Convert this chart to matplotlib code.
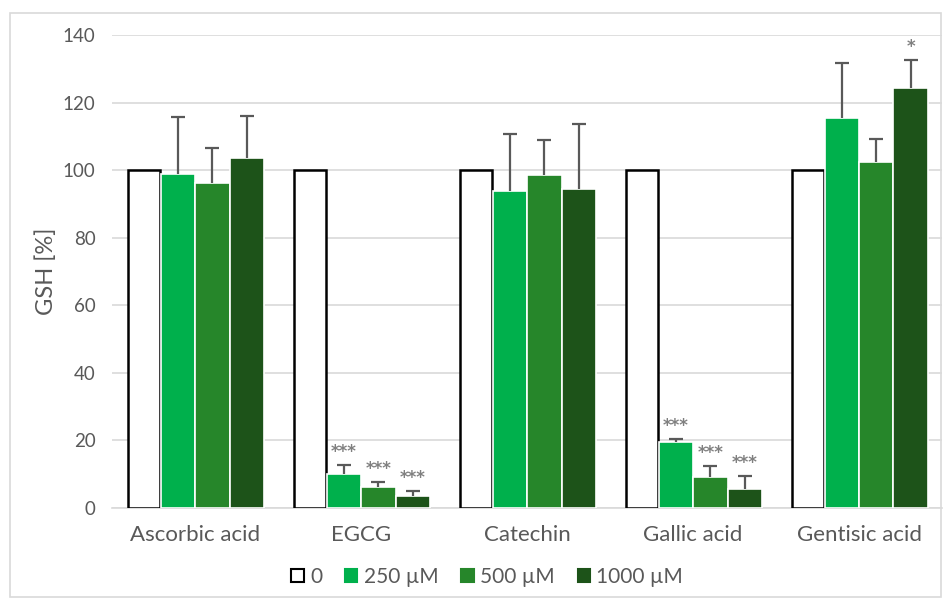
import matplotlib.pyplot as plt
import matplotlib.patches as mpatches
import numpy as np

plt.rcParams['font.family'] = ['Lato', 'DejaVu Sans']

# Data
compounds = ['Ascorbic acid', 'EGCG', 'Catechin', 'Gallic acid', 'Gentisic acid']
series = ['0', '250 µM', '500 µM', '1000 µM']

gsh_0 = [100, 100, 100, 100, 100]
gsh_250 = [99.0, 10.2, 93.8, 19.4, 115.3]
gsh_500 = [96.2, 6.3, 98.6, 9.3, 102.5]
gsh_1000 = [103.6, 3.5, 94.4, 5.5, 124.2]

err_250 = [16.7, 2.5, 17.0, 0.9, 16.4]
err_500 = [10.3, 1.4, 10.2, 3.1, 6.6]
err_1000 = [12.4, 1.5, 19.2, 4.0, 8.3]

# significance marks: (compound index, series index, label)
marks = [(1, 1, '***'), (1, 2, '***'), (1, 3, '***'),
         (3, 1, '***'), (3, 2, '***'), (3, 3, '***'),
         (4, 3, '*')]

colors = ['white', '#00b04c', '#26862a', '#1d5319']

fig = plt.figure(figsize=(9.44, 6.03), dpi=100)
ax = fig.add_axes([0.119, 0.1575, 0.879, 0.7845])

# outer frame
fig.patches.append(mpatches.Rectangle((0.011, 0.01), 0.986, 0.969, transform=fig.transFigure,
                                      fill=False, edgecolor='#d9d9d9', linewidth=1.2))

x = np.arange(len(compounds))
width = 0.207
values = [gsh_0, gsh_250, gsh_500, gsh_1000]
errors = [None, err_250, err_500, err_1000]

for i, (vals, errs) in enumerate(zip(values, errors)):
    offs = (i - 1.5) * width
    if i == 0:
        ax.bar(x + offs, vals, width * 0.93, color='white', edgecolor='black',
               linewidth=1.8, label=series[i], zorder=3)
    else:
        ax.bar(x + offs, vals, width, color=colors[i], edgecolor='white',
               linewidth=1.2, label=series[i], zorder=3)
        # upper error bars only, cap on top
        tops = np.array(vals) + np.array(errs)
        ax.vlines(x + offs, vals, tops, color='#595959', linewidth=1.6, zorder=4)
        ax.plot(x + offs, tops, ls='none', marker='_', markersize=10,
                markeredgewidth=1.6, color='#595959', zorder=4)

for ci, si, lab in marks:
    top = values[si][ci] + errors[si][ci]
    ax.annotate(lab, (x[ci] + (si - 1.5) * width, top), xytext=(0, 6),
                textcoords='offset points', ha='center', va='baseline',
                color='#808080', fontsize=12, fontweight='bold', family='DejaVu Sans')

ax.set_xlim(-0.5, 4.5)
ax.set_ylim(0, 140)
ax.set_yticks(range(0, 141, 20))
ax.set_xticks(x, compounds)
ax.grid(axis='y', color='#d9d9d9', linewidth=1.2, zorder=0)
ax.set_axisbelow(True)
for s in ['top', 'right', 'left']:
    ax.spines[s].set_visible(False)
ax.spines['bottom'].set_color('#d9d9d9')
ax.spines['bottom'].set_linewidth(1.2)
ax.tick_params(axis='both', length=0, colors='#595959')
ax.tick_params(axis='y', labelsize=13.5, pad=12)
ax.tick_params(axis='x', labelsize=16, pad=12)
ax.set_ylabel('GSH [%]', fontsize=17, color='#595959', labelpad=4)

handles = [mpatches.Patch(facecolor=c, edgecolor=('black' if i == 0 else c),
                          linewidth=1.5, label=series[i]) for i, c in enumerate(colors)]
fig.legend(handles=handles, loc='center', bbox_to_anchor=(0.516, 0.043), ncol=4,
           frameon=False, fontsize=15, handlelength=0.6, handleheight=0.6,
           handletextpad=0.3, columnspacing=1.1, labelcolor='#595959')

fig.savefig('out.png', dpi=100)
